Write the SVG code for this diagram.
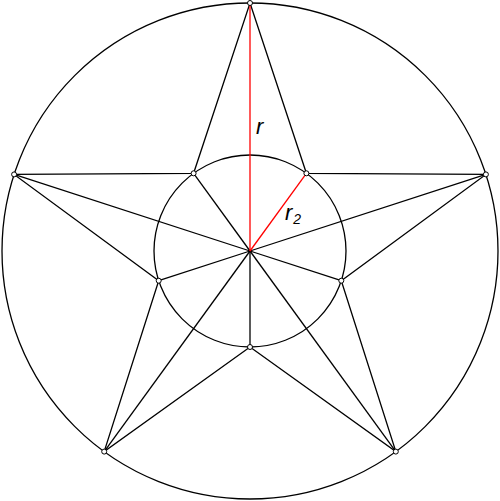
<svg xmlns="http://www.w3.org/2000/svg" width="500" height="501" viewBox="0 0 500 501">
<style>
.ln{stroke:#000;stroke-width:1.3;fill:none}
.red{stroke:#f00;stroke-width:1.3;fill:none}
.dot{fill:#fff;stroke:#000;stroke-width:1}
.lbl{font-family:"Liberation Sans",Arial,sans-serif;font-style:italic;font-size:22px;fill:#000}
.sub{font-family:"Liberation Sans",Arial,sans-serif;font-style:italic;font-size:14px;fill:#000}
</style>
<rect width="500" height="501" fill="#fff"/>
<g id="outer-circle"><circle class="ln" cx="250" cy="251" r="248"/></g>
<g id="inner-circle"><circle class="ln" cx="250" cy="251" r="96"/></g>
<g id="connectors">
<polygon class="ln" points="250,3 306.4,173.3 485.9,174.4 341.3,280.7 395.8,451.6 250,347 104.2,451.6 158.7,280.7 14.1,174.4 193.6,173.3"/>
<line class="ln" x1="250" y1="251" x2="485.9" y2="174.4"/>
<line class="ln" x1="250" y1="251" x2="14.1" y2="174.4"/>
<line class="ln" x1="250" y1="251" x2="395.8" y2="451.6"/>
<line class="ln" x1="250" y1="251" x2="104.2" y2="451.6"/>
<line class="ln" x1="250" y1="251" x2="193.6" y2="173.3"/>
<line class="ln" x1="250" y1="251" x2="158.7" y2="280.7"/>
<line class="ln" x1="250" y1="251" x2="341.3" y2="280.7"/>
<line class="ln" x1="250" y1="251" x2="250" y2="347"/>
<line class="red" x1="250" y1="251" x2="250" y2="3"/>
<line class="red" x1="250" y1="251" x2="306.4" y2="173.3"/>
</g>
<g id="points">
<circle class="dot" cx="250" cy="3" r="2.5"/>
<circle class="dot" cx="485.9" cy="174.4" r="2.5"/>
<circle class="dot" cx="14.1" cy="174.4" r="2.5"/>
<circle class="dot" cx="395.8" cy="451.6" r="2.5"/>
<circle class="dot" cx="104.2" cy="451.6" r="2.5"/>
<circle class="dot" cx="306.4" cy="173.3" r="2.5"/>
<circle class="dot" cx="193.6" cy="173.3" r="2.5"/>
<circle class="dot" cx="341.3" cy="280.7" r="2.5"/>
<circle class="dot" cx="158.7" cy="280.7" r="2.5"/>
<circle class="dot" cx="250" cy="347" r="2.5"/>
</g>
<g id="labels">
<text class="lbl" x="256" y="134">r</text>
<text class="lbl" x="285" y="220">r<tspan class="sub" dx="1" dy="4">2</tspan></text>
</g>
</svg>
